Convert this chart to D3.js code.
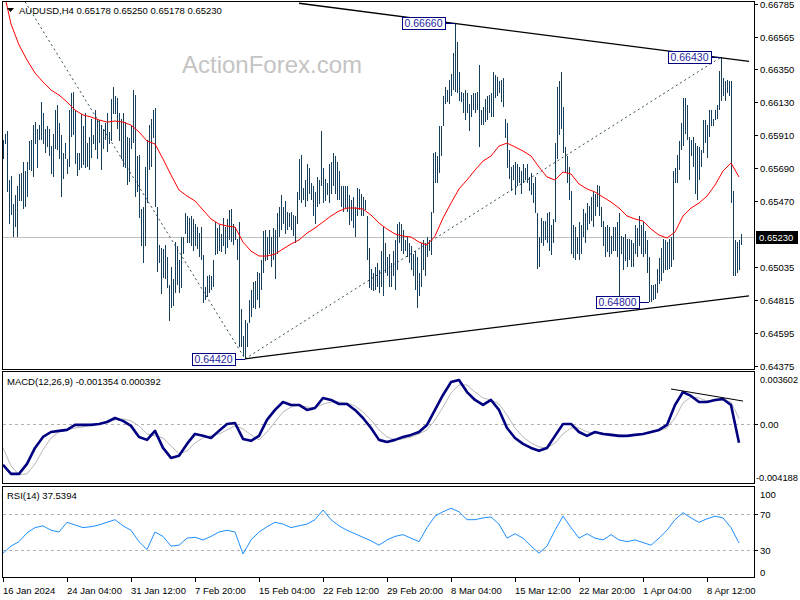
<!DOCTYPE html>
<html><head><meta charset="utf-8">
<script src="https://cdn.jsdelivr.net/npm/d3@7"></script>
<style>body{margin:0;background:#fff}svg{display:block}text{font-family:"Liberation Sans",Arial,sans-serif}</style>
</head><body><svg id="c" width="800" height="600"></svg>
<script>
const symbolTitle = "AUDUSD,H4  0.65178 0.65250 0.65178 0.65230";
const macdTitle = "MACD(12,26,9) -0.001354 0.000392";
const rsiTitle = "RSI(14) 37.5394";
const lastPrice = 0.65230;
const highs = [
0.6588,0.6592,0.6594,0.6561,0.6564,0.6545,0.6551,0.6557,0.6565,0.6566,
0.6573,0.6567,0.6573,0.6587,0.6588,0.6598,0.6600,0.6595,0.6598,0.6613,
0.6606,0.6595,0.6597,0.6595,0.6584,0.6592,0.6608,0.6611,0.6599,0.6591,
0.6579,0.6586,0.6575,0.6608,0.6619,0.6620,0.6608,0.6579,0.6579,0.6605,
0.6597,0.6606,0.6586,0.6590,0.6602,0.6591,0.6608,0.6602,0.6601,0.6598,
0.6595,0.6599,0.6606,0.6593,0.6615,0.6623,0.6617,0.6616,0.6606,0.6602,
0.6606,0.6600,0.6590,0.6589,0.6597,0.6621,0.6618,0.6577,0.6578,0.6542,
0.6543,0.6570,0.6588,0.6598,0.6602,0.6608,0.6609,0.6543,0.6518,0.6516,
0.6515,0.6518,0.6510,0.6491,0.6503,0.6495,0.6520,0.6517,0.6508,0.6523,
0.6523,0.6539,0.6537,0.6536,0.6537,0.6535,0.6532,0.6530,0.6526,0.6530,
0.6511,0.6490,0.6497,0.6498,0.6497,0.6508,0.6533,0.6529,0.6531,0.6525,
0.6536,0.6530,0.6535,0.6541,0.6542,0.6532,0.6530,0.6522,0.6533,0.6475,
0.6457,0.6468,0.6466,0.6481,0.6488,0.6493,0.6494,0.6500,0.6499,0.6508,
0.6527,0.6528,0.6523,0.6528,0.6523,0.6529,0.6528,0.6539,0.6543,0.6551,
0.6543,0.6547,0.6540,0.6539,0.6540,0.6538,0.6537,0.6553,0.6575,0.6578,
0.6556,0.6561,0.6572,0.6569,0.6559,0.6557,0.6553,0.6563,0.6561,0.6594,
0.6569,0.6562,0.6559,0.6572,0.6573,0.6579,0.6577,0.6573,0.6567,0.6557,
0.6557,0.6557,0.6557,0.6551,0.6548,0.6550,0.6543,0.6556,0.6555,0.6552,
0.6550,0.6548,0.6537,0.6516,0.6502,0.6499,0.6503,0.6506,0.6501,0.6514,
0.6530,0.6519,0.6510,0.6512,0.6506,0.6514,0.6521,0.6532,0.6533,0.6532,
0.6528,0.6521,0.6523,0.6519,0.6517,0.6512,0.6514,0.6510,0.6499,0.6519,
0.6521,0.6519,0.6523,0.6521,0.6540,0.6579,0.6580,0.6577,0.6597,0.6597,
0.6617,0.6623,0.6621,0.6628,0.6632,0.6646,0.6666,0.6653,0.6633,0.6620,
0.6619,0.6621,0.6619,0.6612,0.6618,0.6619,0.6619,0.6620,0.6638,0.6608,
0.6610,0.6615,0.6617,0.6618,0.6619,0.6633,0.6631,0.6630,0.6627,0.6628,
0.6629,0.6602,0.6599,0.6581,0.6570,0.6571,0.6573,0.6572,0.6570,0.6567,
0.6572,0.6569,0.6572,0.6563,0.6566,0.6559,0.6563,0.6539,0.6523,0.6536,
0.6534,0.6534,0.6539,0.6540,0.6531,0.6535,0.6586,0.6623,0.6627,0.6633,
0.6610,0.6583,0.6577,0.6570,0.6554,0.6531,0.6530,0.6523,0.6533,0.6531,
0.6542,0.6539,0.6546,0.6544,0.6550,0.6553,0.6552,0.6558,0.6557,0.6543,
0.6534,0.6530,0.6531,0.6530,0.6524,0.6530,0.6530,0.6533,0.6539,0.6524,
0.6523,0.6525,0.6522,0.6522,0.6521,0.6519,0.6531,0.6529,0.6537,0.6531,
0.6533,0.6527,0.6521,0.6510,0.6491,0.6491,0.6492,0.6502,0.6509,0.6516,
0.6522,0.6521,0.6520,0.6522,0.6523,0.6567,0.6569,0.6578,0.6587,0.6599,
0.6616,0.6616,0.6611,0.6590,0.6588,0.6590,0.6586,0.6584,0.6583,0.6581,
0.6601,0.6601,0.6598,0.6608,0.6608,0.6602,0.6608,0.6611,0.6634,0.6643,
0.6629,0.6627,0.6628,0.6627,0.6627,0.6554,0.6521,0.6520,0.6521,0.6525];
const lows = [
0.6575,0.6585,0.6553,0.6532,0.6538,0.6523,0.6530,0.6523,0.6547,0.6547,
0.6542,0.6543,0.6550,0.6568,0.6567,0.6563,0.6585,0.6569,0.6588,0.6588,
0.6585,0.6579,0.6583,0.6577,0.6565,0.6563,0.6582,0.6581,0.6575,0.6550,
0.6562,0.6575,0.6565,0.6570,0.6590,0.6591,0.6572,0.6564,0.6568,0.6569,
0.6571,0.6569,0.6570,0.6568,0.6576,0.6585,0.6581,0.6575,0.6586,0.6568,
0.6582,0.6588,0.6580,0.6585,0.6587,0.6605,0.6605,0.6595,0.6587,0.6575,
0.6570,0.6569,0.6558,0.6560,0.6582,0.6586,0.6550,0.6553,0.6536,0.6517,
0.6506,0.6517,0.6546,0.6568,0.6570,0.6589,0.6543,0.6500,0.6506,0.6485,
0.6496,0.6495,0.6489,0.6467,0.6476,0.6477,0.6486,0.6491,0.6486,0.6489,
0.6512,0.6525,0.6519,0.6519,0.6517,0.6514,0.6517,0.6515,0.6510,0.6508,
0.6479,0.6481,0.6483,0.6486,0.6488,0.6490,0.6511,0.6512,0.6514,0.6513,
0.6517,0.6512,0.6516,0.6521,0.6520,0.6518,0.6521,0.6508,0.6450,0.6450,
0.6444,0.6442,0.6450,0.6466,0.6470,0.6476,0.6475,0.6481,0.6476,0.6488,
0.6499,0.6507,0.6508,0.6512,0.6503,0.6508,0.6495,0.6512,0.6523,0.6528,
0.6532,0.6525,0.6528,0.6530,0.6528,0.6524,0.6519,0.6532,0.6548,0.6546,
0.6548,0.6543,0.6547,0.6552,0.6548,0.6537,0.6532,0.6543,0.6545,0.6557,
0.6546,0.6547,0.6551,0.6546,0.6552,0.6557,0.6552,0.6548,0.6548,0.6543,
0.6540,0.6542,0.6540,0.6531,0.6534,0.6529,0.6523,0.6537,0.6541,0.6537,
0.6537,0.6541,0.6508,0.6489,0.6488,0.6487,0.6488,0.6490,0.6486,0.6490,
0.6484,0.6499,0.6497,0.6490,0.6490,0.6497,0.6488,0.6501,0.6519,0.6514,
0.6512,0.6514,0.6510,0.6506,0.6501,0.6497,0.6488,0.6476,0.6484,0.6490,
0.6501,0.6497,0.6510,0.6514,0.6511,0.6539,0.6559,0.6559,0.6566,0.6577,
0.6597,0.6612,0.6613,0.6612,0.6617,0.6621,0.6620,0.6619,0.6614,0.6613,
0.6606,0.6601,0.6606,0.6594,0.6603,0.6608,0.6606,0.6608,0.6583,0.6598,
0.6598,0.6600,0.6601,0.6606,0.6603,0.6603,0.6616,0.6617,0.6619,0.6613,
0.6610,0.6589,0.6569,0.6562,0.6554,0.6561,0.6551,0.6557,0.6559,0.6552,
0.6559,0.6561,0.6559,0.6554,0.6551,0.6546,0.6539,0.6502,0.6503,0.6519,
0.6517,0.6521,0.6519,0.6514,0.6511,0.6519,0.6533,0.6575,0.6591,0.6595,
0.6579,0.6566,0.6559,0.6548,0.6512,0.6509,0.6508,0.6512,0.6508,0.6512,
0.6523,0.6519,0.6528,0.6532,0.6534,0.6530,0.6537,0.6543,0.6537,0.6530,
0.6517,0.6510,0.6513,0.6510,0.6512,0.6514,0.6514,0.6510,0.6483,0.6512,
0.6501,0.6507,0.6503,0.6508,0.6503,0.6503,0.6512,0.6510,0.6517,0.6512,
0.6510,0.6512,0.6499,0.6480,0.6480,0.6481,0.6482,0.6486,0.6492,0.6494,
0.6499,0.6501,0.6501,0.6502,0.6503,0.6508,0.6559,0.6559,0.6568,0.6581,
0.6584,0.6592,0.6588,0.6561,0.6577,0.6570,0.6552,0.6548,0.6561,0.6570,
0.6579,0.6586,0.6576,0.6590,0.6597,0.6597,0.6601,0.6602,0.6608,0.6614,
0.6617,0.6614,0.6619,0.6617,0.6546,0.6497,0.6497,0.6499,0.6501,0.65178];
// indicator samples: one value every 4 bars
const sampleStep = 4;
const maValues = [
0.66892,0.66652,0.66512,0.66412,0.66325,0.66265,0.66212,0.66178,0.66132,0.66078,
0.66045,0.66032,0.66012,0.65998,0.66005,0.65998,0.65978,0.65932,0.65872,0.65852,
0.65752,0.65645,0.65545,0.65505,0.65472,0.65412,0.65352,0.65318,0.65305,0.65298,
0.65198,0.65138,0.65105,0.65105,0.65118,0.65152,0.65185,0.65212,0.65258,0.65292,
0.65332,0.65372,0.65405,0.65425,0.65425,0.65418,0.65378,0.65325,0.65285,0.65252,
0.65238,0.65232,0.65198,0.65178,0.65238,0.65358,0.65458,0.65552,0.65612,0.65678,
0.65738,0.65772,0.65838,0.65858,0.65832,0.65805,0.65772,0.65698,0.65632,0.65612,
0.65665,0.65652,0.65585,0.65552,0.65532,0.65498,0.65465,0.65425,0.65372,0.65352,
0.65338,0.65285,0.65245,0.65225,0.65265,0.65372,0.65425,0.65458,0.65505,0.65578,
0.65672,0.65725,0.65632];
const macdMain = [
-0.00295,-0.00360,-0.00360,-0.00288,-0.00173,-0.00094,-0.00058,-0.00050,-0.00043,-0.00007,
-0.00007,-0.00007,0.00000,0.00014,0.00043,0.00022,-0.00014,-0.00094,-0.00115,-0.00050,
-0.00173,-0.00245,-0.00230,-0.00144,-0.00072,-0.00086,-0.00101,-0.00050,0.00000,0.00007,
-0.00108,-0.00122,-0.00086,0.00029,0.00101,0.00158,0.00137,0.00137,0.00101,0.00115,
0.00187,0.00173,0.00144,0.00144,0.00101,0.00043,-0.00029,-0.00115,-0.00130,-0.00115,
-0.00094,-0.00079,-0.00058,-0.00007,0.00101,0.00209,0.00302,0.00317,0.00230,0.00173,
0.00137,0.00173,0.00101,-0.00029,-0.00101,-0.00144,-0.00173,-0.00194,-0.00173,-0.00086,
0.00000,0.00000,-0.00058,-0.00086,-0.00058,-0.00072,-0.00079,-0.00086,-0.00086,-0.00079,
-0.00072,-0.00058,-0.00043,-0.00007,0.00137,0.00230,0.00202,0.00158,0.00158,0.00173,
0.00180,0.00137,-0.00135];
const macdSignal = [
-0.00173,-0.00302,-0.00367,-0.00360,-0.00288,-0.00187,-0.00101,-0.00058,-0.00043,-0.00029,
-0.00022,-0.00007,0.00000,0.00014,0.00029,0.00036,0.00022,-0.00014,-0.00072,-0.00086,
-0.00101,-0.00158,-0.00216,-0.00194,-0.00137,-0.00101,-0.00086,-0.00072,-0.00043,-0.00014,
-0.00036,-0.00079,-0.00115,-0.00058,0.00014,0.00086,0.00122,0.00137,0.00122,0.00115,
0.00144,0.00158,0.00158,0.00151,0.00130,0.00086,0.00029,-0.00043,-0.00094,-0.00115,
-0.00108,-0.00094,-0.00072,-0.00043,0.00029,0.00122,0.00223,0.00281,0.00281,0.00230,
0.00187,0.00173,0.00144,0.00065,-0.00029,-0.00094,-0.00137,-0.00166,-0.00173,-0.00137,
-0.00072,-0.00029,-0.00029,-0.00058,-0.00065,-0.00065,-0.00072,-0.00079,-0.00086,-0.00079,
-0.00072,-0.00065,-0.00050,-0.00029,0.00043,0.00151,0.00194,0.00187,0.00166,0.00166,
0.00173,0.00158,0.00039];
const rsiValues = [
26,34,39,49,55,57,52,50,61,58, 55,56,58,61,64,57,52,39,30,50,
45,34,35,43,44,41,45,50,52,50, 25,41,50,56,61,59,55,57,59,64,
75,64,57,52,48,44,40,35,41,45, 47,43,39,55,68,73,77,73,64,64,
66,67,59,43,48,43,34,26,34,52, 68,55,43,48,43,41,47,41,39,41,
38,35,43,52,64,72,66,61,65,68, 66,55,37.5];
const priceTicks = [0.66785,0.66565,0.66350,0.66130,0.65910,0.65690,0.65470,0.65035,0.64815,0.64595,0.64375];
const macdTicks = [0.003602,0,-0.004188];
const macdTickLabels = ["0.003602","0.00","-0.004188"];
const rsiTicks = [100,70,30,0];
const timeLabels = ["16 Jan 2024","24 Jan 04:00","31 Jan 12:00","7 Feb 20:00","15 Feb 04:00","22 Feb 12:00","29 Feb 20:00","8 Mar 04:00","15 Mar 12:00","22 Mar 20:00","1 Apr 04:00","8 Apr 12:00"];
const timeLabelStep = 32;
// annotated extremes: bar index, which side, label
const markerBars = [121,226,323,359];
const markerSide = ["low","high","low","high"];
const markerText = ["0.64420","0.66660","0.64800","0.66430"];
// trend lines [bar index, price] pairs
const upperLine = [[148,0.6679],[373,0.66402]];
const lowerLine = [[121,0.6442],[373,0.6484]];
const dashLine1 = [[11,0.6680],[121,0.6442]];
const dashLine2 = [[121,0.6442],[359,0.6643]];
const macdLine = [[334,0.00252],[370,0.00165]];

const svg = d3.select("#c");
const AX = 754;
const x = d3.scaleLinear().domain([0,369]).range([3,741]);
const y = d3.scaleLinear().domain([0.64352,0.66805]).range([369,1]);
const ym = d3.scaleLinear().domain([-0.004188,0.003602]).range([482,374]);
const yr = d3.scaleLinear().domain([0,100]).range([576,488]);
const defs = svg.append("defs");
[["cp",2,1,369],["cm",2,372,483],["cr",2,487,577]].forEach(([id,x0,y0,y1])=>{
  defs.append("clipPath").attr("id",id).append("rect").attr("x",x0+1).attr("y",y0+1).attr("width",AX-x0-1).attr("height",y1-y0-1);
});
const px = v => Math.round(v)+0.5;

// panes
[[1,369],[371,483],[486,577]].forEach(([a,b])=>{
  svg.append("rect").attr("x",2.5).attr("y",a+0.5).attr("width",AX-2).attr("height",b-a)
    .attr("fill","none").attr("stroke","#000").attr("stroke-width",1);
});

// watermark
svg.append("text").attr("x",182).attr("y",73).attr("font-size",24).attr("fill","#c4c4c4").text("ActionForex.com");

const gp = svg.append("g").attr("clip-path","url(#cp)");
// current price line
gp.append("line").attr("x1",3).attr("x2",AX).attr("y1",px(y(lastPrice))).attr("y2",px(y(lastPrice))).attr("stroke","#c0c0c0");
// dashed lines
const lineP = d3.line().x(d=>x(d[0])).y(d=>y(d[1]));
[dashLine1,dashLine2].forEach(L=>gp.append("path").attr("d",lineP(L)).attr("fill","none").attr("stroke","#2f4f4f").attr("stroke-dasharray","2,3"));
// bars
gp.append("g").selectAll("line").data(highs).join("line")
  .attr("x1",(d,i)=>px(x(i))).attr("x2",(d,i)=>px(x(i)))
  .attr("y1",d=>y(d)).attr("y2",(d,i)=>y(lows[i]))
  .attr("stroke","#173f5c").attr("stroke-width",1).attr("shape-rendering","crispEdges");
// MA
gp.append("path").attr("d",d3.line().x((d,i)=>x(i*sampleStep)).y(d=>y(d))(maValues))
  .attr("fill","none").attr("stroke","#ff0000").attr("stroke-width",1);
// solid trend lines
[upperLine,lowerLine].forEach(L=>gp.append("path").attr("d",lineP(L)).attr("fill","none").attr("stroke","#000").attr("stroke-width",1.3));
// markers
markerBars.forEach((bi,k)=>{
  const pv = markerSide[k]==="high"?highs[bi]:lows[bi];
  const bx = x(bi), by = Math.round(y(pv));
  const bw = 43, bh = 13, right = Math.round(bx)-10;
  gp.append("line").attr("x1",right).attr("x2",bx).attr("y1",by+0.5).attr("y2",by+0.5).attr("stroke","#000080");
  gp.append("rect").attr("x",right-bw+0.5).attr("y",by-6+0.5).attr("width",bw).attr("height",bh-1)
    .attr("fill","#fff").attr("stroke","#000080");
  gp.append("text").attr("x",right-bw/2).attr("y",by+4).attr("text-anchor","middle").attr("font-size",10.5).attr("fill","#1f1f9f").text(markerText[k]);
});

// price axis
priceTicks.forEach(t=>{
  const ty = Math.round(y(t));
  svg.append("line").attr("x1",AX).attr("x2",AX+4).attr("y1",ty+0.5).attr("y2",ty+0.5).attr("stroke","#000");
  svg.append("text").attr("x",760).attr("y",ty+4).attr("font-size",9.5).attr("fill","#000").text(t.toFixed(5));
});
// current price tag
{
  const ty = Math.round(y(lastPrice));
  svg.append("rect").attr("x",756).attr("y",ty-6).attr("width",42).attr("height",13).attr("fill","#000");
  svg.append("text").attr("x",759).attr("y",ty+4).attr("font-size",9.5).attr("fill","#fff").text(lastPrice.toFixed(5));
}
// title
svg.append("path").attr("d","M7,8 L14,8 L10.5,12 Z").attr("fill","#000");
svg.append("text").attr("x",19).attr("y",14).attr("font-size",9.5).attr("fill","#000").text(symbolTitle);

// MACD pane
const gm = svg.append("g").attr("clip-path","url(#cm)");
gm.append("line").attr("x1",3).attr("x2",AX).attr("y1",px(ym(0))).attr("y2",px(ym(0))).attr("stroke","#b0b0b0").attr("stroke-dasharray","3,3");
gm.append("path").attr("d",d3.line().x((d,i)=>x(i*sampleStep)).y(d=>ym(d))(macdSignal)).attr("fill","none").attr("stroke","#b8b8b8").attr("stroke-width",1);
gm.append("path").attr("d",d3.line().x((d,i)=>x(i*sampleStep)).y(d=>ym(d))(macdMain)).attr("fill","none").attr("stroke","#000080").attr("stroke-width",2.6).attr("stroke-linejoin","round");
gm.append("path").attr("d",d3.line().x(d=>x(d[0])).y(d=>ym(d[1]))(macdLine)).attr("fill","none").attr("stroke","#000").attr("stroke-width",1);
svg.append("text").attr("x",7).attr("y",385).attr("font-size",9.5).text(macdTitle);
macdTicks.forEach((t,k)=>{
  let ty = ym(t); if(k===0) ty+=5; if(k===2) ty-=5;
  const tx = svg.append("text").attr("x",k===2?756:760).attr("y",ty+4).attr("font-size",9.5).attr("fill","#000").text(macdTickLabels[k]);
  if(k===2) tx.attr("textLength",42).attr("lengthAdjust","spacingAndGlyphs");
  if(k===0) tx.attr("textLength",38).attr("lengthAdjust","spacingAndGlyphs");
});
svg.append("line").attr("x1",AX).attr("x2",AX+4).attr("y1",px(ym(0))).attr("y2",px(ym(0))).attr("stroke","#000");

// RSI pane
const gr = svg.append("g").attr("clip-path","url(#cr)");
[70,30].forEach(l=>gr.append("line").attr("x1",3).attr("x2",AX).attr("y1",px(yr(l))).attr("y2",px(yr(l))).attr("stroke","#b0b0b0").attr("stroke-dasharray","3,3"));
gr.append("path").attr("d",d3.line().x((d,i)=>x(i*sampleStep)).y(d=>yr(d))(rsiValues)).attr("fill","none").attr("stroke","#1e90ff").attr("stroke-width",1);
svg.append("text").attr("x",7).attr("y",499).attr("font-size",9.5).text(rsiTitle);
rsiTicks.forEach(t=>{
  let ty = yr(t); if(t===100) ty+=6; if(t===0) ty-=4;
  svg.append("text").attr("x",760).attr("y",ty+4).attr("font-size",9.5).attr("fill","#000").text(t);
  if(t===70||t===30) svg.append("line").attr("x1",AX).attr("x2",AX+4).attr("y1",px(yr(t))).attr("y2",px(yr(t))).attr("stroke","#000");
});

// time axis
timeLabels.forEach((s,k)=>{
  const tx = Math.round(x(k*timeLabelStep));
  svg.append("line").attr("x1",tx+0.5).attr("x2",tx+0.5).attr("y1",577).attr("y2",582).attr("stroke","#000");
  svg.append("text").attr("x",tx).attr("y",594).attr("font-size",9.5).attr("fill","#000").text(s);
});
</script></body></html>
